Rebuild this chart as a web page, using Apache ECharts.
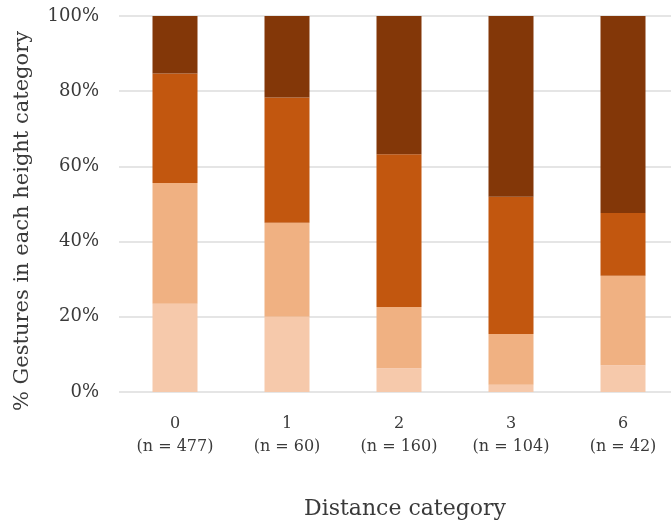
<!DOCTYPE html>
<html>
<head>
<meta charset="utf-8">
<script src="https://cdn.jsdelivr.net/npm/echarts@6/dist/echarts.min.js"></script>
<style>html,body{margin:0;padding:0;background:#fff;overflow:hidden}#c{width:690px;height:526px}</style>
</head>
<body>
<div id="c"></div>
<script>
const categories = ['0', '1', '2', '3', '6'];
const counts = [477, 60, 160, 104, 42];
const level1 = [23.5, 20.0, 6.3, 1.9, 7.1];
const level2 = [32.1, 25.0, 16.3, 13.5, 23.8];
const level3 = [29.1, 33.3, 40.6, 36.5, 16.7];
const level4 = [15.3, 21.7, 36.8, 48.1, 52.4];
const yTicks = [0, 20, 40, 60, 80, 100];

const colors = ['#f6c9ab', '#f0b182', '#c2570f', '#833708'];
const labels = categories.map((c, i) => c + '\n(n = ' + counts[i] + ')');
const font = 'DejaVu Serif';
const seriesData = [level1, level2, level3, level4];

const chart = echarts.init(document.getElementById('c'));
chart.setOption({
  animation: false,
  textStyle: { fontFamily: font },
  grid: { left: 119, right: 11, top: 16, bottom: 134 },
  xAxis: {
    type: 'category',
    data: labels,
    axisLine: { show: false },
    axisTick: { show: false },
    axisLabel: { color: '#3a3a3a', fontFamily: font, fontSize: 16, lineHeight: 23, margin: 20 },
    name: 'Distance category',
    nameLocation: 'middle',
    nameGap: 106,
    nameTextStyle: { color: '#3a3a3a', fontFamily: font, fontSize: 22, padding: [0, 0, 0, 12] }
  },
  yAxis: {
    type: 'value',
    min: yTicks[0],
    max: yTicks[yTicks.length - 1],
    interval: 20,
    axisLine: { show: false },
    axisTick: { show: false },
    axisLabel: { color: '#3a3a3a', fontFamily: font, fontSize: 18, formatter: '{value}%', margin: 20 },
    splitLine: { lineStyle: { color: '#dcdcdc', width: 1.5 } },
    name: '% Gestures in each height category',
    nameLocation: 'middle',
    nameGap: 86,
    nameTextStyle: { color: '#3a3a3a', fontFamily: font, fontSize: 21, padding: [0, 34, 0, 0] }
  },
  series: seriesData.map((d, i) => ({
    type: 'bar',
    stack: 'total',
    data: d,
    barWidth: 45,
    itemStyle: { color: colors[i] }
  }))
});
</script>
</body>
</html>
